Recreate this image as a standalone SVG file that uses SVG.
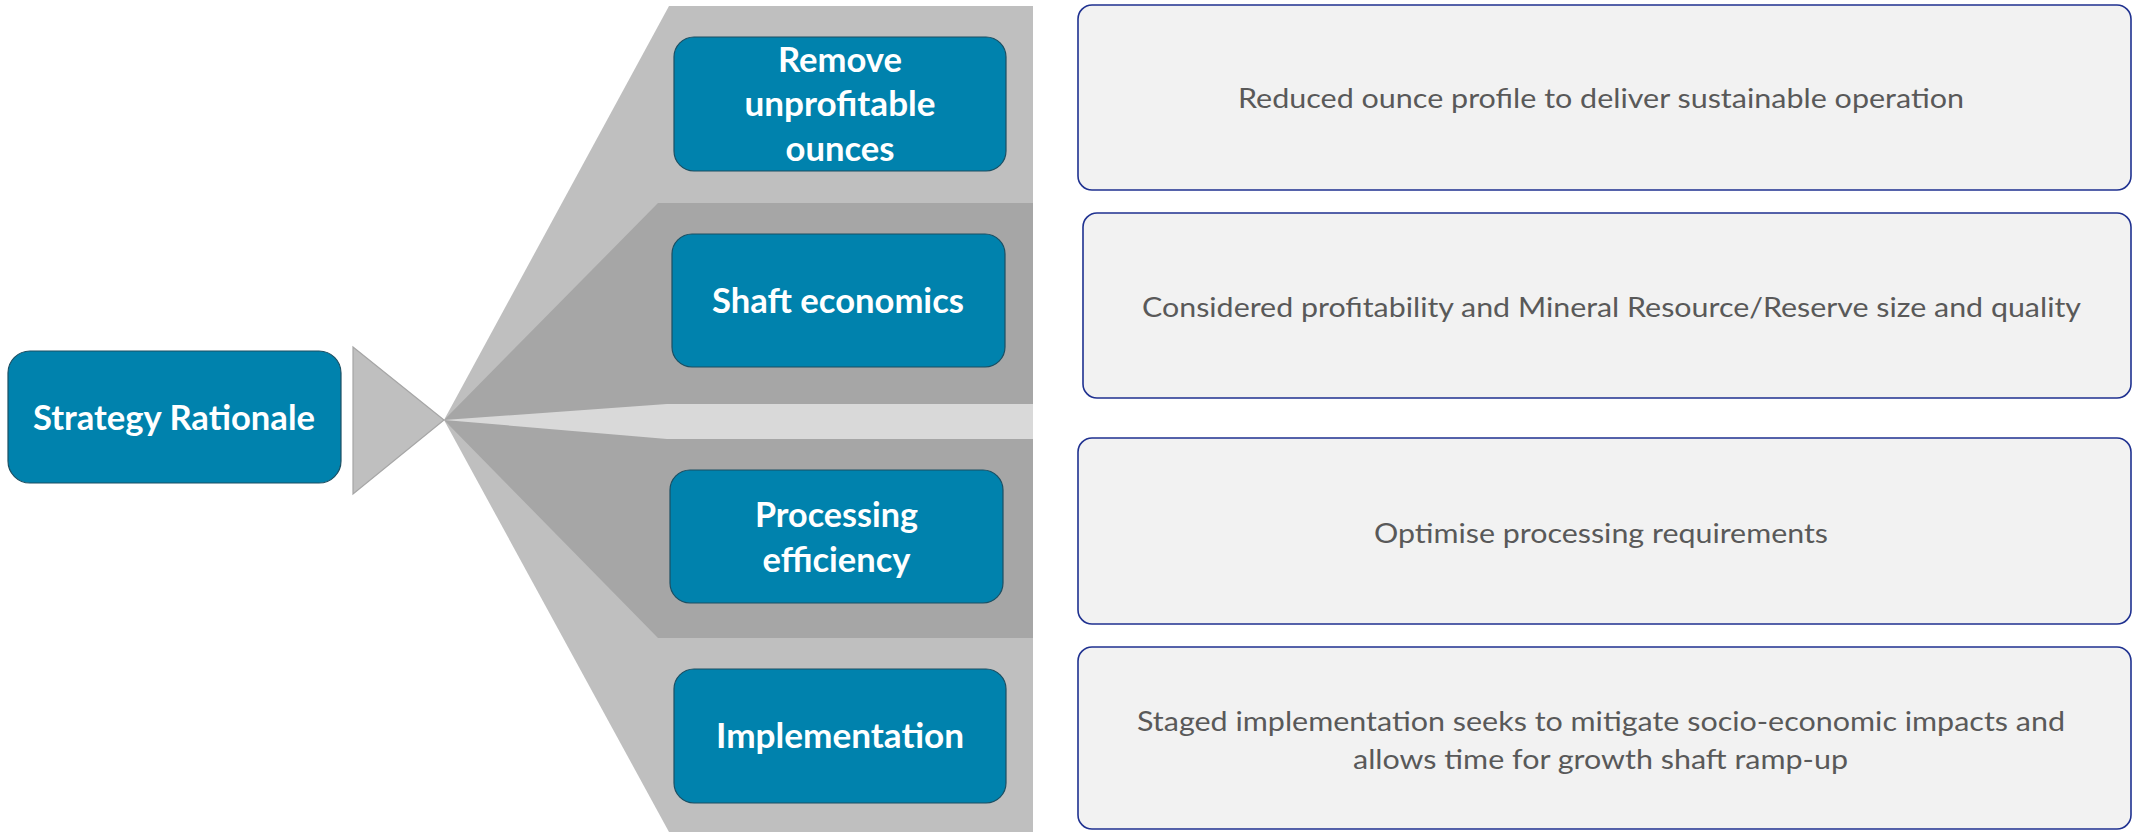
<svg xmlns="http://www.w3.org/2000/svg" width="2134" height="832" viewBox="0 0 2134 832">
  <style>
    .blue { fill: #0082ad; stroke: #1b4f63; stroke-width: 1.2; }
    .card { fill: #f2f2f2; stroke: #1f3190; stroke-width: 1.6; }
    .bt { font-family: Lato, "Open Sans", "Liberation Sans", sans-serif; font-weight: 700; font-size: 35px; fill: #ffffff; text-anchor: middle; }
    .gt { font-family: Lato, "Open Sans", "Liberation Sans", sans-serif; font-weight: 400; font-size: 27px; fill: #595959; text-anchor: middle; }
  </style>
  <rect width="2134" height="832" fill="#ffffff"/>

  <!-- fan linking the rationale to the four levers -->
  <g id="connectors">
    <polygon points="353,347 444,420 353,494" fill="#bfbfbf" stroke="#a6a6a6" stroke-width="1.2"/>
    <polygon points="444,420 669,6 1033,6 1033,832 669,832" fill="#bfbfbf"/>
    <polygon points="444,420 658,203 1033,203 1033,638 658,638" fill="#a6a6a6"/>
    <polygon points="444,420 667,404 1033,404 1033,439 667,439" fill="#d9d9d9"/>
  </g>

  <g id="strategy-rationale">
    <rect class="blue" x="8" y="351" width="333" height="132" rx="22"/>
    <text class="bt" x="174" y="430" textLength="282" lengthAdjust="spacingAndGlyphs">Strategy Rationale</text>
  </g>

  <g id="remove-unprofitable-ounces">
    <rect class="blue" x="674" y="37" width="332" height="134" rx="20"/>
    <text class="bt" x="840" y="72" textLength="124" lengthAdjust="spacingAndGlyphs">Remove</text>
    <text class="bt" x="840" y="116" textLength="191" lengthAdjust="spacingAndGlyphs">unprofitable</text>
    <text class="bt" x="840" y="161" textLength="109" lengthAdjust="spacingAndGlyphs">ounces</text>
  </g>

  <g id="shaft-economics">
    <rect class="blue" x="672" y="234" width="333" height="133" rx="20"/>
    <text class="bt" x="838" y="313" textLength="252" lengthAdjust="spacingAndGlyphs">Shaft economics</text>
  </g>

  <g id="processing-efficiency">
    <rect class="blue" x="670" y="470" width="333" height="133" rx="20"/>
    <text class="bt" x="836.5" y="527" textLength="163" lengthAdjust="spacingAndGlyphs">Processing</text>
    <text class="bt" x="836.5" y="572" textLength="148" lengthAdjust="spacingAndGlyphs">efficiency</text>
  </g>

  <g id="implementation">
    <rect class="blue" x="674" y="669" width="332" height="134" rx="20"/>
    <text class="bt" x="840" y="748" textLength="248" lengthAdjust="spacingAndGlyphs">Implementation</text>
  </g>

  <g id="outcome-ounces">
    <rect class="card" x="1078" y="5" width="1053" height="185" rx="14"/>
    <text class="gt" x="1601" y="108" textLength="726" lengthAdjust="spacingAndGlyphs">Reduced ounce profile to deliver sustainable operation</text>
  </g>

  <g id="outcome-shaft">
    <rect class="card" x="1083" y="213" width="1048" height="185" rx="14"/>
    <text class="gt" x="1611.5" y="317" textLength="939" lengthAdjust="spacingAndGlyphs">Considered profitability and Mineral Resource/Reserve size and quality</text>
  </g>

  <g id="outcome-processing">
    <rect class="card" x="1078" y="438" width="1053" height="186" rx="14"/>
    <text class="gt" x="1601" y="543" textLength="454" lengthAdjust="spacingAndGlyphs">Optimise processing requirements</text>
  </g>

  <g id="outcome-implementation">
    <rect class="card" x="1078" y="647" width="1053" height="182" rx="14"/>
    <text class="gt" x="1601" y="731" textLength="928" lengthAdjust="spacingAndGlyphs">Staged implementation seeks to mitigate socio-economic impacts and</text>
    <text class="gt" x="1600.5" y="769" textLength="495" lengthAdjust="spacingAndGlyphs">allows time for growth shaft ramp-up</text>
  </g>
</svg>
